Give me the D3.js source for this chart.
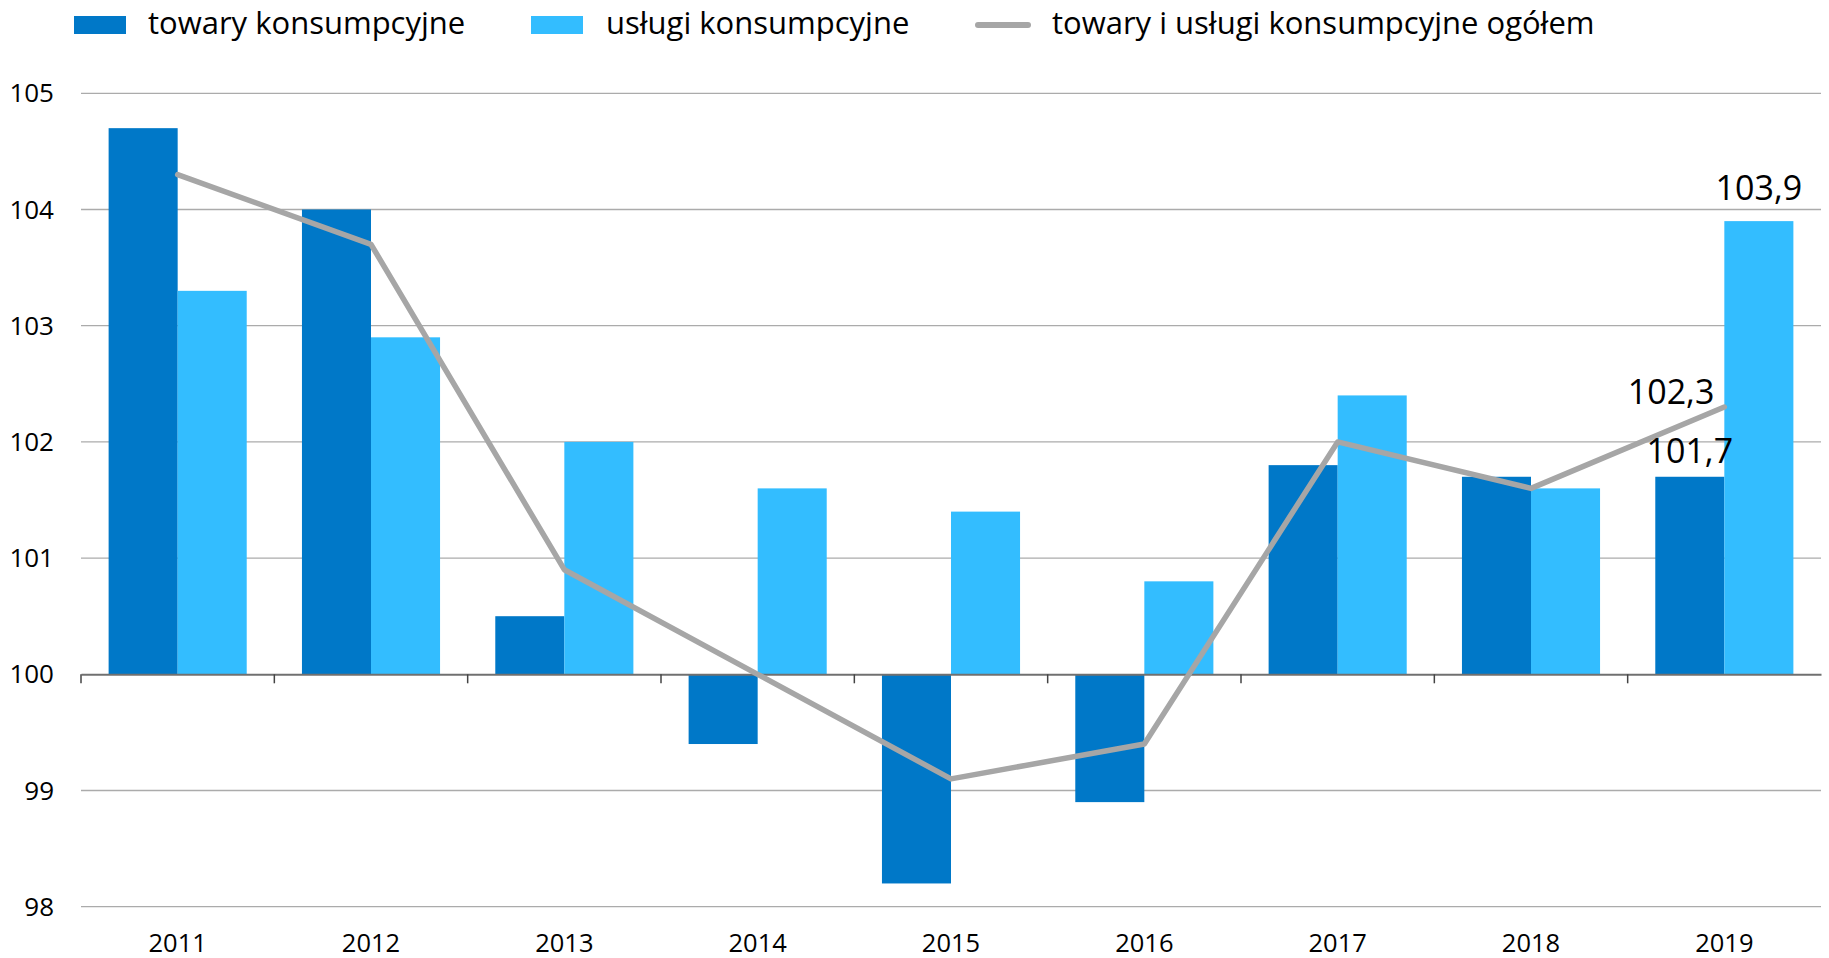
<!DOCTYPE html>
<html>
<head>
<meta charset="utf-8">
<script src="https://cdn.jsdelivr.net/npm/d3@7.9.0/dist/d3.min.js"></script>
<style>
  body { margin: 0; background: #fff; }
  svg { display: block; font-family: "Open Sans", sans-serif; }
</style>
</head>
<body>
<svg id="chart" width="1829" height="958"></svg>
<script>
// data
const years = ['2011', '2012', '2013', '2014', '2015', '2016', '2017', '2018', '2019'];
const towary = [104.7, 104.0, 100.5, 99.4, 98.2, 98.9, 101.8, 101.7, 101.7];
const uslugi = [103.3, 102.9, 102.0, 101.6, 101.4, 100.8, 102.4, 101.6, 103.9];
const ogolem = [104.3, 103.7, 100.9, 100.0, 99.1, 99.4, 102.0, 101.6, 102.3];
const yTicks = [98, 99, 100, 101, 102, 103, 104, 105];
const seriesNames = ['towary konsumpcyjne', 'usługi konsumpcyjne', 'towary i usługi konsumpcyjne ogółem'];

const colors = { towary: '#0078c8', uslugi: '#33bdff', ogolem: '#a6a6a6' };

const svg = d3.select('#chart');
const margin = { top: 93.3, right: 8, bottom: 51.3, left: 81 };
const width = 1829, height = 958;

let x = d3.scaleBand().domain(years).range([margin.left, width - margin.right]).padding(0);
let x1 = d3.scaleBand().domain(['towary', 'uslugi']).range([0, x.bandwidth()]).paddingInner(0).paddingOuter(0.4);
let y = d3.scaleLinear().domain([98, 105]).range([height - margin.bottom, margin.top]);

// gridlines
svg.append('g')
    .selectAll('line')
    .data(yTicks.filter(d => d !== 100))
    .join('line')
    .attr('x1', margin.left).attr('x2', width - margin.right)
    .attr('y1', d => y(d)).attr('y2', d => y(d))
    .attr('stroke', '#ababab').attr('stroke-width', 1.3);

// y labels
svg.append('g')
    .selectAll('text')
    .data(yTicks)
    .join('text')
    .attr('x', 54).attr('y', d => y(d))
    .attr('dy', '0.35em')
    .attr('text-anchor', 'end')
    .attr('font-size', 26)
    .attr('fill', '#000')
    .text(d => d);

// bars
let rows = years.map((yr, i) => ({ year: yr, towary: towary[i], uslugi: uslugi[i] }));
let groups = svg.append('g').selectAll('g')
    .data(rows)
    .join('g')
    .attr('transform', d => `translate(${x(d.year)},0)`);

groups.selectAll('rect')
    .data(d => ['towary', 'uslugi'].map(k => ({ key: k, value: d[k] })))
    .join('rect')
    .attr('x', d => x1(d.key))
    .attr('width', x1.bandwidth())
    .attr('y', d => y(Math.max(d.value, 100)))
    .attr('height', d => Math.abs(y(d.value) - y(100)))
    .attr('fill', d => colors[d.key]);

// baseline axis at 100
let axis = d3.axisBottom(x).tickSize(0).tickFormat('');
let axisG = svg.append('g')
    .attr('transform', `translate(0,${y(100)})`)
    .call(axis);
axisG.select('.domain').attr('stroke', '#707070').attr('stroke-width', 2);
// ticks at category boundaries
axisG.append('g')
    .selectAll('line')
    .data(years)
    .join('line')
    .attr('x1', d => x(d)).attr('x2', d => x(d))
    .attr('y1', 0).attr('y2', 9)
    .attr('stroke', '#444').attr('stroke-width', 1.5);

// x labels
svg.append('g')
    .selectAll('text')
    .data(years)
    .join('text')
    .attr('x', d => x(d) + x.bandwidth() / 2)
    .attr('y', 952)
    .attr('text-anchor', 'middle')
    .attr('font-size', 25.5)
    .attr('fill', '#000')
    .text(d => d);

// total line
let line = d3.line()
    .x((d, i) => x(years[i]) + x.bandwidth() / 2)
    .y(d => y(d));
svg.append('path')
    .datum(ogolem)
    .attr('d', line)
    .attr('fill', 'none')
    .attr('stroke', colors.ogolem)
    .attr('stroke-width', 5.5)
    .attr('stroke-linejoin', 'round')
    .attr('stroke-linecap', 'round');

// value labels for last year
const last = years.length - 1;
const fmt = v => d3.format('.1f')(v).replace('.', ',');
svg.append('text')
    .attr('x', x(years[last]) + x1('uslugi') + x1.bandwidth() / 2)
    .attr('y', y(uslugi[last]) - 21)
    .attr('text-anchor', 'middle').attr('font-size', 34).attr('fill', '#000')
    .text(fmt(uslugi[last]));
svg.append('text')
    .attr('x', x(years[last]) + x1('towary') + x1.bandwidth() / 2)
    .attr('y', y(towary[last]) - 14)
    .attr('text-anchor', 'middle').attr('font-size', 34).attr('fill', '#000')
    .text(fmt(towary[last]));
svg.append('text')
    .attr('x', x(years[last]) + x.bandwidth() / 2 - 10)
    .attr('y', y(ogolem[last]) - 3)
    .attr('text-anchor', 'end').attr('font-size', 34).attr('fill', '#000')
    .text(fmt(ogolem[last]));

// legend
let legendX = [74, 531, 975];
let textX = [148, 606, 1052];
let legend = svg.append('g');
legend.append('rect').attr('x', legendX[0]).attr('y', 16).attr('width', 52).attr('height', 18).attr('fill', colors.towary);
legend.append('rect').attr('x', legendX[1]).attr('y', 16).attr('width', 52).attr('height', 18).attr('fill', colors.uslugi);
legend.append('line').attr('x1', legendX[2] + 3).attr('x2', legendX[2] + 53).attr('y1', 25).attr('y2', 25)
    .attr('stroke', colors.ogolem).attr('stroke-width', 6).attr('stroke-linecap', 'round');
seriesNames.forEach((name, i) => {
    legend.append('text')
        .attr('x', textX[i]).attr('y', 34)
        .attr('font-size', 31).attr('fill', '#000')
        .text(name);
});
</script>
</body>
</html>
